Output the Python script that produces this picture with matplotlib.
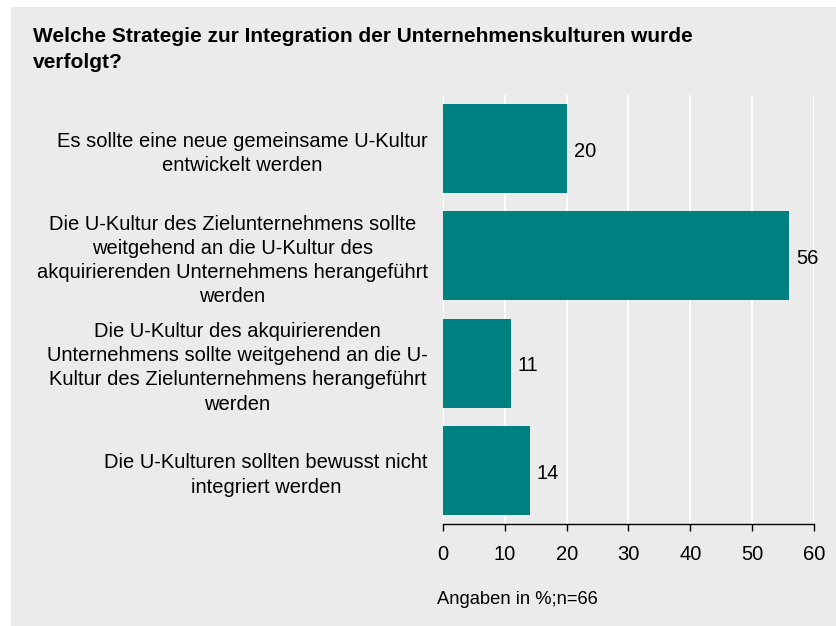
import matplotlib.pyplot as plt
from matplotlib.patches import Rectangle

plt.rcParams['font.family'] = ['Liberation Sans', 'DejaVu Sans']

# Daten
labels = [
    "Es sollte eine neue gemeinsame U-Kultur\nentwickelt werden",
    "Die U-Kultur des Zielunternehmens sollte\nweitgehend an die U-Kultur des\nakquirierenden Unternehmens herangeführt\nwerden",
    "Die U-Kultur des akquirierenden\nUnternehmens sollte weitgehend an die U-\nKultur des Zielunternehmens herangeführt\nwerden",
    "Die U-Kulturen sollten bewusst nicht\nintegriert werden",
]
values = [20, 56, 11, 14]
xticks = [0, 10, 20, 30, 40, 50, 60]

bg = '#ebebeb'
teal = '#008080'

W, H = 836, 626
fig = plt.figure(figsize=(W / 100, H / 100), dpi=100)
fig.patch.set_facecolor('white')
fig.patches.append(Rectangle((11 / W, 0), 1, (H - 7) / H, transform=fig.transFigure,
                             facecolor=bg, edgecolor='none', zorder=-10))

ax = fig.add_axes([443 / W, (H - 524) / H, 371 / W, 429 / H])
ax.set_facecolor(bg)

ypos = list(range(len(values)))
ax.barh(ypos, values, height=0.83, color=teal, zorder=3)
for y, v in zip(ypos, values):
    ax.annotate(str(v), (v, y), xytext=(5, -2), textcoords='offset points',
                va='center', ha='left', fontsize=14.5)

ax.set_xlim(0, 60)
ax.set_ylim(len(values) - 0.5, -0.5)
ax.set_xticks(xticks)
ax.set_yticks(ypos)
ax.set_yticklabels(labels, fontsize=14.5, ha='right', multialignment='center',
                   linespacing=1.35)
ax.tick_params(axis='y', length=0, pad=11)
ax.tick_params(axis='x', direction='out', length=5, width=1, labelsize=14.5, pad=10)

ax.grid(axis='x', color='white', linewidth=1.3, zorder=0)
for s in ['top', 'right', 'left']:
    ax.spines[s].set_visible(False)
ax.spines['bottom'].set_linewidth(1)

fig.text(33 / W, 1 - 37 / H,
         "Welche Strategie zur Integration der Unternehmenskulturen wurde",
         fontsize=15, fontweight='bold', ha='left', va='center')
fig.text(33 / W, 1 - 62 / H, "verfolgt?",
         fontsize=15, fontweight='bold', ha='left', va='center')
fig.text(437 / W, 1 - 600 / H, "Angaben in %;n=66", fontsize=13.2,
         ha='left', va='center')

fig.savefig('out.png', dpi=100, facecolor=fig.get_facecolor())
